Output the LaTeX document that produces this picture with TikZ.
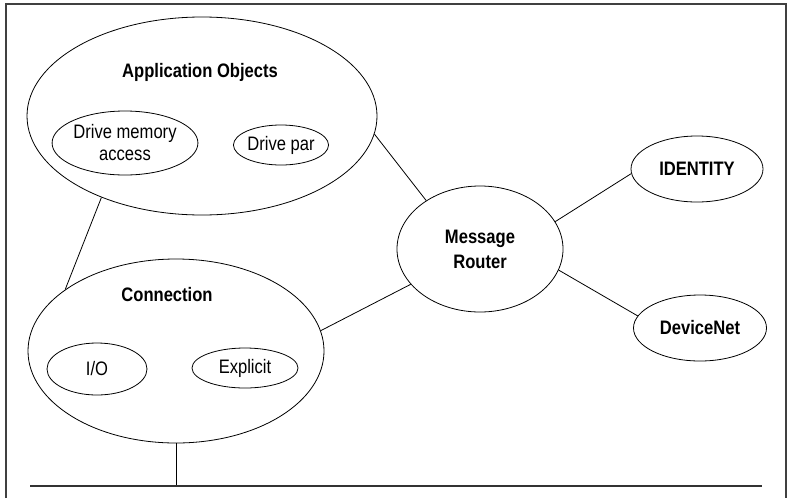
\documentclass[tikz,border=0pt]{standalone}
\usepackage{fontspec}
\setmainfont[FakeStretch=0.85]{Liberation Sans}
\usetikzlibrary{shapes.geometric,positioning}

\begin{document}
\begin{tikzpicture}[x=1pt,y=-1pt,
    obj/.style={ellipse, draw, line width=0.8pt, inner sep=0pt, align=center,
      font=\fontsize{19.5}{22}\selectfont},
    boldobj/.style={obj, font=\fontsize{19.5}{25}\selectfont\bfseries},
    head/.style={font=\fontsize{19.5}{22}\selectfont\bfseries, inner sep=0pt},
    link/.style={line width=0.8pt}]
  % Fixed bounding box
  \path[use as bounding box] (0,0) rectangle (791,498);

  % Frame (open at the bottom)
  \draw[line width=1.4pt, black!75] (6,498) -- (6,4) -- (786,4) -- (786,498);

  % Application objects
  \node[obj, minimum width=350, minimum height=198] (app) at (202,116) {};
  \node[head] (apptitle) at (200,72) {Application Objects};
  \node[obj, minimum width=130, minimum height=64] (drmem) at (125,143) {Drive memory\\access};
  \node[obj, minimum width=94, minimum height=40] (drpar) at (281,145) {Drive par};

  % Connection
  \node[obj, minimum width=296, minimum height=184] (conn) at (176,351) {};
  \node[head] (conntitle) at (167,295) {Connection};
  \node[obj, minimum width=100, minimum height=52] (io) at (97,369) {I/O};
  \node[obj, minimum width=106, minimum height=40] (expl) at (245,368) {Explicit};

  % Router and the two objects it serves
  \node[boldobj, minimum width=166, minimum height=126] (router) at (480,249) {Message\\Router};
  \node[boldobj, minimum width=132, minimum height=66] (ident) at (697,169) {IDENTITY};
  \node[boldobj, minimum width=133, minimum height=66] (dnet) at (700,328) {DeviceNet};

  % Network bus
  \coordinate (busL) at (30,486);
  \coordinate (busR) at (762,486);
  \coordinate (tap) at (conn.south |- busL);

  % Links
  \draw[link] (app.-141) -- (conn.151);
  \draw[link] (app.-6) -- (router.138);
  \draw[link] (conn.8) -- (router.-153);
  \draw[link] (router.20) -- (ident.184);
  \draw[link] (router.-15) -- (dnet.169);
  \draw[link] (conn.south) -- (tap);
  \draw[line width=1.2pt, black!80] (busL) -- (busR);
\end{tikzpicture}
\end{document}
